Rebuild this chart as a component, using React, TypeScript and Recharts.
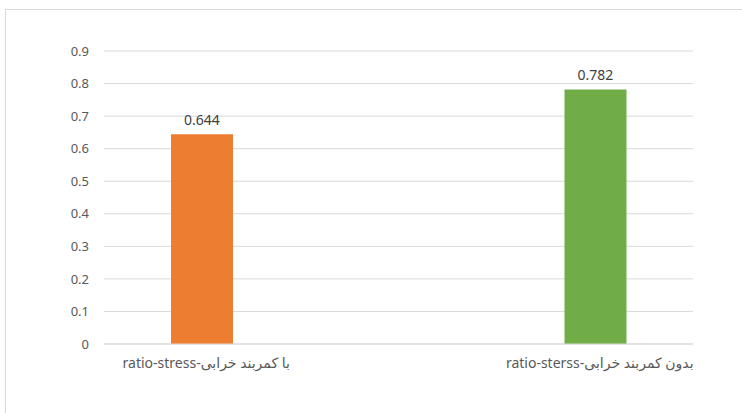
import { Bar, BarChart, CartesianGrid, LabelList, XAxis, YAxis } from 'recharts'

const categories = ['ratio-stress-با کمربند خرابی', 'ratio-sterss-بدون کمربند خرابی']
const withBelt = [0.644, null]
const withoutBelt = [null, 0.782]
const yTicks = [0, 0.1, 0.2, 0.3, 0.4, 0.5, 0.6, 0.7, 0.8, 0.9]

const data = categories.map((name, i) => ({
  name,
  withBelt: withBelt[i],
  withoutBelt: withoutBelt[i],
}))

// labels sit under their own bar rather than the category centre
const tickShift = [-45, 54]

function CategoryTick({ x, y, payload, index }: any) {
  return (
    <text
      x={x + tickShift[index]}
      y={y + 16}
      textAnchor="middle"
      fill="#595959"
      fontSize={14}
      fontFamily="Noto Sans, DejaVu Sans, sans-serif"
    >
      {payload.value}
    </text>
  )
}

export default function App() {
  return (
    <div style={{ position: 'absolute', left: 0, top: 0, width: 742, height: 413, background: '#fff' }}>
      <div
        style={{
          position: 'absolute',
          left: 5,
          top: 9,
          width: 740,
          height: 410,
          border: '1px solid #d9d9d9',
        }}
      />
      <BarChart
        width={742}
        height={413}
        data={data}
        margin={{ top: 51, right: 49, bottom: 39, left: 0 }}
        barSize={62}
        barGap={37}
        style={{ position: 'absolute', left: 0, top: 0 }}
      >
        <CartesianGrid vertical={false} stroke="#d9d9d9" />
        <XAxis
          dataKey="name"
          height={30}
          tickLine={false}
          axisLine={{ stroke: '#d9d9d9' }}
          tick={<CategoryTick />}
          interval={0}
        />
        <YAxis
          width={104}
          domain={[0, 0.9]}
          ticks={yTicks}
          tickLine={false}
          axisLine={false}
          tickSize={0}
          tickMargin={15}
          tick={{ fill: '#595959', fontSize: 13, fontFamily: 'Noto Sans, sans-serif' }}
        />
        <Bar dataKey="withBelt" fill="#ED7D31" isAnimationActive={false}>
          <LabelList
            dataKey="withBelt"
            position="top"
            offset={9}
            fill="#404040"
            fontSize={14}
            fontFamily="Noto Sans, sans-serif"
          />
        </Bar>
        <Bar dataKey="withoutBelt" fill="#70AD47" isAnimationActive={false}>
          <LabelList
            dataKey="withoutBelt"
            position="top"
            offset={9}
            fill="#404040"
            fontSize={14}
            fontFamily="Noto Sans, sans-serif"
          />
        </Bar>
      </BarChart>
    </div>
  )
}
